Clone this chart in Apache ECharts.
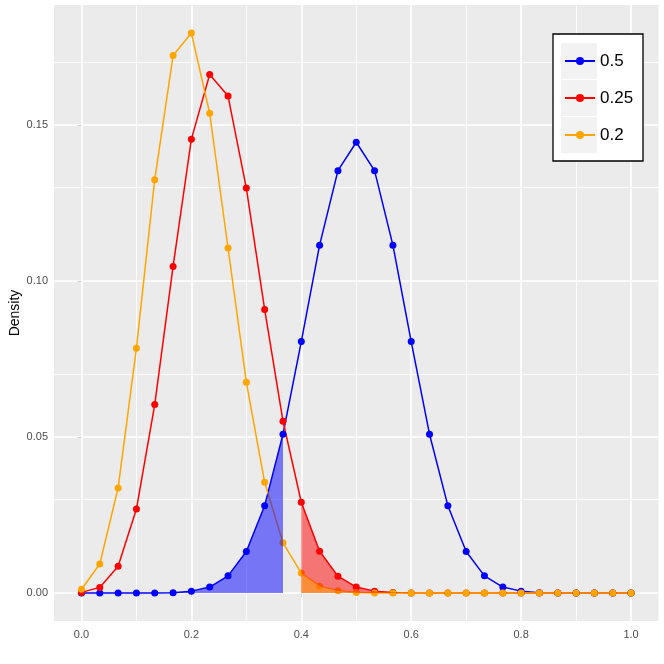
<!DOCTYPE html>
<html>
<head>
<meta charset="utf-8">
<script src="https://cdn.jsdelivr.net/npm/echarts@6/dist/echarts.min.js"></script>
<style>
  html, body { margin: 0; padding: 0; background: #fff; }
  #container { width: 664px; height: 664px; }
</style>
</head>
<body>
<div id="container"></div>
<script>
var dom = document.getElementById("container");
var myChart = echarts.init(dom);

// proportion of successes k/30
var xValues = [0, 0.0333, 0.0667, 0.1, 0.1333, 0.1667, 0.2, 0.2333, 0.2667, 0.3,
  0.3333, 0.3667, 0.4, 0.4333, 0.4667, 0.5, 0.5333, 0.5667, 0.6, 0.6333,
  0.6667, 0.7, 0.7333, 0.7667, 0.8, 0.8333, 0.8667, 0.9, 0.9333, 0.9667, 1.0];

var dens05 = [0, 0, 0, 0, 0, 0.0001, 0.0006, 0.0019, 0.0055, 0.0133,
  0.0280, 0.0509, 0.0806, 0.1115, 0.1354, 0.1445, 0.1354, 0.1115, 0.0806, 0.0509,
  0.0280, 0.0133, 0.0055, 0.0019, 0.0006, 0.0001, 0, 0, 0, 0, 0];
var dens025 = [0.0002, 0.0018, 0.0086, 0.0269, 0.0604, 0.1047, 0.1455, 0.1662, 0.1593, 0.1298,
  0.0909, 0.0551, 0.0291, 0.0134, 0.0054, 0.0019, 0.0006, 0.0002, 0, 0,
  0, 0, 0, 0, 0, 0, 0, 0, 0, 0, 0];
var dens02 = [0.0012, 0.0093, 0.0337, 0.0785, 0.1325, 0.1723, 0.1795, 0.1538, 0.1106, 0.0676,
  0.0355, 0.0161, 0.0064, 0.0022, 0.0007, 0.0002, 0, 0, 0, 0,
  0, 0, 0, 0, 0, 0, 0, 0, 0, 0, 0];

var seriesNames = ["0.5", "0.25", "0.2"];
var xTicks = [0, 0.2, 0.4, 0.6, 0.8, 1.0];
var yTicks = [0, 0.05, 0.10, 0.15];
var xGrid = [0, 0.1, 0.2, 0.3, 0.4, 0.5, 0.6, 0.7, 0.8, 0.9, 1.0];
var yGrid = [0, 0.025, 0.05, 0.075, 0.10, 0.125, 0.15, 0.175];
var cutLow = 11;   // shaded 0..11 for p = 0.5
var cutHigh = 12;  // shaded 12..30 for the others

function pairs(ys, from, to) {
  var out = [];
  for (var i = from; i <= to; i++) out.push([xValues[i], ys[i]]);
  return out;
}

function gridLines() {
  var d = [];
  xGrid.forEach(function (v, i) {
    d.push({ xAxis: v, lineStyle: { width: i % 2 === 0 ? 1.6 : 0.8 } });
  });
  yGrid.forEach(function (v, i) {
    d.push({ yAxis: v, lineStyle: { width: i % 2 === 0 ? 1.6 : 0.8 } });
  });
  return d;
}

function curve(name, ys, color) {
  return {
    name: name,
    type: "line",
    z: 3,
    data: pairs(ys, 0, ys.length - 1),
    symbol: "circle",
    symbolSize: 7,
    lineStyle: { color: color, width: 1.5 },
    itemStyle: { color: color },
    emphasis: { disabled: true },
    silent: true
  };
}

function shade(ys, from, to, color) {
  return {
    type: "line",
    z: 4,
    data: pairs(ys, from, to),
    showSymbol: false,
    symbol: "none",
    lineStyle: { width: 0 },
    areaStyle: { color: color, opacity: 0.5, origin: 0 },
    emphasis: { disabled: true },
    silent: true
  };
}

var font = "Liberation Sans";

option = {
  animation: false,
  textStyle: { fontFamily: font },
  grid: {
    left: 54, right: 5.5, top: 5, bottom: 43,
    outerBoundsMode: "none",
    containLabel: false,
    show: true, backgroundColor: "#EBEBEB", borderWidth: 0
  },
  xAxis: {
    type: "value",
    min: -0.05, max: 1.05,
    splitLine: { show: false },
    axisLine: { show: false },
    axisTick: { show: true, customValues: xTicks, length: 4, lineStyle: { color: "#333333" } },
    axisLabel: {
      customValues: xTicks, color: "#4d4d4d", fontSize: 11, margin: 8,
      formatter: function (v) { return v.toFixed(1); }
    }
  },
  yAxis: {
    type: "value",
    min: -0.008975, max: 0.1885,
    name: "Density",
    nameLocation: "middle",
    nameGap: 32,
    nameMoveOverlap: false,
    nameTextStyle: { color: "#000", fontSize: 14 },
    splitLine: { show: false },
    axisLine: { show: false },
    axisTick: { show: true, customValues: yTicks, length: 4, lineStyle: { color: "#333333" } },
    axisLabel: {
      customValues: yTicks, color: "#4d4d4d", fontSize: 11, margin: 6,
      formatter: function (v) { return v.toFixed(2); }
    }
  },
  legend: {
    data: seriesNames,
    orient: "vertical",
    left: 564, top: 51,
    padding: 0,
    itemWidth: 30, itemHeight: 10, itemGap: 17,
    textStyle: { fontSize: 17, lineHeight: 20, color: "#000" },
    selectedMode: false,
    z: 10
  },
  graphic: [
    { type: "rect", z: 5, shape: { x: 553, y: 34, width: 90, height: 127 },
      style: { fill: "#fff", stroke: "#000", lineWidth: 1.3 } },
    { type: "rect", z: 6, shape: { x: 561, y: 43, width: 36, height: 36 }, style: { fill: "#F2F2F2" } },
    { type: "rect", z: 6, shape: { x: 561, y: 80, width: 36, height: 36 }, style: { fill: "#F2F2F2" } },
    { type: "rect", z: 6, shape: { x: 561, y: 117, width: 36, height: 36 }, style: { fill: "#F2F2F2" } }
  ],
  series: [
    {
      type: "line",
      z: 1,
      data: [],
      silent: true,
      markLine: {
        z: 1,
        silent: true,
        symbol: "none",
        animation: false,
        label: { show: false },
        lineStyle: { color: "#FFFFFF", type: "solid" },
        emphasis: { disabled: true },
        data: gridLines()
      }
    },
    curve(seriesNames[0], dens05, "#0000FF"),
    curve(seriesNames[1], dens025, "#FF0000"),
    curve(seriesNames[2], dens02, "#FFA500"),
    shade(dens05, 0, cutLow, "#0000FF"),
    shade(dens025, cutHigh, xValues.length - 1, "#FF0000"),
    shade(dens02, cutHigh, xValues.length - 1, "#FFA500")
  ]
};
if (option && typeof option === "object") {
  myChart.setOption(option, true);
}
</script>
</body>
</html>
